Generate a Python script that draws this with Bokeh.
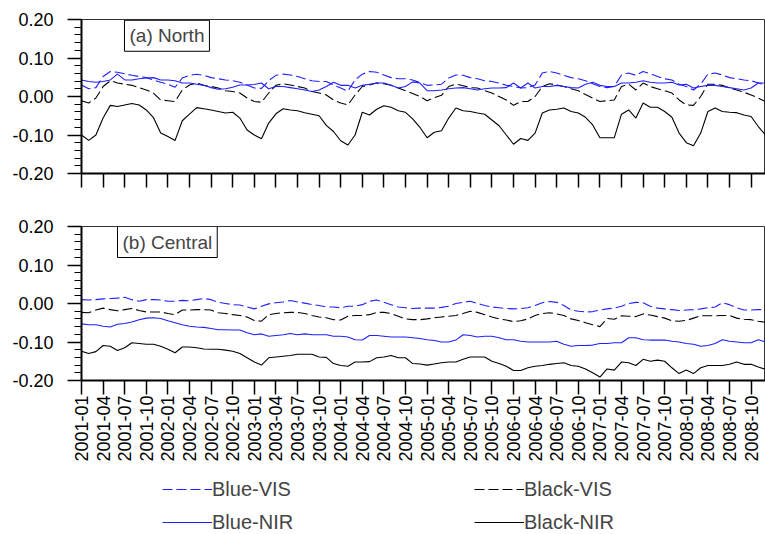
import math
from bokeh.plotting import figure
from bokeh.layouts import column
from bokeh.models import (FixedTicker, Label, Legend, LegendItem, ColumnDataSource,
                          Range1d, PrintfTickFormatter)
from bokeh.embed import file_html
from bokeh.resources import INLINE

# ---------------- data ----------------
months = [f"{y}-{m:02d}" for y in range(2001, 2009) for m in range(1, 13)]

north_blue_vis = [0.030, 0.020, 0.023, 0.052, 0.065, 0.063, 0.059, 0.055, 0.052, 0.049, 0.043, 0.037,
                  0.032, 0.024, 0.048, 0.055, 0.058, 0.055, 0.049, 0.046, 0.043, 0.041, 0.037, 0.030,
                  0.022, 0.021, 0.041, 0.055, 0.058, 0.056, 0.052, 0.046, 0.041, 0.039, 0.039, 0.030,
                  0.022, 0.014, 0.043, 0.058, 0.065, 0.063, 0.056, 0.049, 0.046, 0.046, 0.043, 0.036,
                  0.029, 0.030, 0.032, 0.048, 0.056, 0.055, 0.049, 0.046, 0.041, 0.039, 0.035, 0.029,
                  0.026, 0.022, 0.023, 0.030, 0.061, 0.065, 0.061, 0.055, 0.049, 0.046, 0.041, 0.033,
                  0.026, 0.023, 0.026, 0.056, 0.061, 0.055, 0.065, 0.059, 0.052, 0.046, 0.043, 0.032,
                  0.026, 0.017, 0.032, 0.058, 0.061, 0.056, 0.049, 0.046, 0.043, 0.041, 0.035, 0.030]
north_black_vis = [-0.011, -0.017, -0.004, 0.026, 0.041, 0.035, 0.032, 0.029, 0.023, 0.017, 0.009, -0.009,
                   -0.011, -0.013, 0.017, 0.030, 0.035, 0.029, 0.026, 0.022, 0.015, 0.013, 0.009, -0.004,
                   -0.013, -0.015, 0.009, 0.029, 0.033, 0.030, 0.026, 0.022, 0.013, 0.009, 0.004, -0.009,
                   -0.017, -0.022, 0.004, 0.026, 0.030, 0.035, 0.033, 0.029, 0.022, 0.015, 0.008, 0.000,
                   -0.011, -0.003, 0.003, 0.026, 0.032, 0.028, 0.023, 0.022, 0.015, 0.009, 0.000, -0.009,
                   -0.023, -0.013, -0.013, 0.000, 0.026, 0.033, 0.030, 0.026, 0.020, 0.015, 0.005, -0.004,
                   -0.013, -0.011, -0.009, 0.026, 0.032, 0.017, 0.035, 0.026, 0.020, 0.015, 0.009, -0.009,
                   -0.022, -0.023, 0.000, 0.032, 0.032, 0.029, 0.022, 0.017, 0.011, 0.004, -0.004, -0.013]
north_blue_nir = [0.043, 0.039, 0.037, 0.039, 0.043, 0.058, 0.043, 0.043, 0.046, 0.048, 0.049, 0.043,
                  0.043, 0.041, 0.035, 0.035, 0.032, 0.029, 0.023, 0.019, 0.020, 0.024, 0.030, 0.030,
                  0.031, 0.035, 0.020, 0.026, 0.026, 0.023, 0.020, 0.017, 0.013, 0.017, 0.026, 0.037,
                  0.029, 0.029, 0.022, 0.029, 0.032, 0.035, 0.035, 0.029, 0.022, 0.026, 0.038, 0.035,
                  0.015, 0.015, 0.017, 0.020, 0.022, 0.023, 0.020, 0.017, 0.020, 0.022, 0.022, 0.023,
                  0.035, 0.022, 0.035, 0.022, 0.026, 0.026, 0.029, 0.026, 0.023, 0.022, 0.032, 0.037,
                  0.029, 0.026, 0.026, 0.035, 0.035, 0.037, 0.041, 0.037, 0.035, 0.035, 0.037, 0.030,
                  0.032, 0.022, 0.026, 0.029, 0.029, 0.026, 0.023, 0.020, 0.017, 0.022, 0.035, 0.035]
north_black_nir = [-0.100, -0.114, -0.100, -0.056, -0.023, -0.026, -0.022, -0.018, -0.022, -0.035, -0.055, -0.095,
                   -0.104, -0.114, -0.063, -0.046, -0.029, -0.032, -0.035, -0.039, -0.043, -0.041, -0.056, -0.087,
                   -0.100, -0.110, -0.069, -0.045, -0.032, -0.035, -0.037, -0.042, -0.046, -0.050, -0.075, -0.091,
                   -0.115, -0.126, -0.100, -0.041, -0.048, -0.033, -0.024, -0.028, -0.037, -0.041, -0.058, -0.080,
                   -0.107, -0.093, -0.089, -0.056, -0.030, -0.037, -0.039, -0.043, -0.046, -0.061, -0.076, -0.100,
                   -0.124, -0.109, -0.114, -0.095, -0.043, -0.035, -0.033, -0.030, -0.039, -0.043, -0.054, -0.074,
                   -0.107, -0.107, -0.107, -0.046, -0.035, -0.056, -0.017, -0.028, -0.028, -0.039, -0.054, -0.095,
                   -0.120, -0.128, -0.095, -0.039, -0.030, -0.039, -0.041, -0.042, -0.048, -0.052, -0.078, -0.100]

central_blue_vis = [0.010, 0.009, 0.010, 0.012, 0.013, 0.014, 0.016, 0.010, 0.006, 0.010, 0.010, 0.009,
                    0.006, 0.006, 0.008, 0.007, 0.010, 0.013, 0.010, 0.003, 0.000, -0.003, -0.004, -0.009,
                    -0.014, -0.007, -0.001, 0.002, 0.004, 0.008, 0.004, 0.001, -0.003, -0.005, -0.009, -0.009,
                    -0.011, -0.007, -0.007, -0.003, 0.006, 0.009, 0.003, -0.003, -0.009, -0.011, -0.013, -0.012,
                    -0.012, -0.012, -0.010, -0.007, 0.000, 0.003, 0.006, 0.000, -0.005, -0.009, -0.011, -0.013,
                    -0.014, -0.013, -0.011, -0.005, 0.002, 0.005, 0.003, -0.005, -0.017, -0.020, -0.022, -0.021,
                    -0.017, -0.014, -0.012, -0.007, 0.000, 0.003, 0.002, -0.007, -0.012, -0.014, -0.016, -0.018,
                    -0.017, -0.016, -0.014, -0.011, -0.009, 0.002, -0.003, -0.011, -0.017, -0.017, -0.016, -0.016]
central_black_vis = [-0.023, -0.024, -0.017, -0.012, -0.016, -0.019, -0.016, -0.013, -0.018, -0.022, -0.022, -0.022,
                     -0.026, -0.029, -0.017, -0.017, -0.016, -0.016, -0.017, -0.024, -0.026, -0.029, -0.031, -0.035,
                     -0.044, -0.046, -0.029, -0.026, -0.024, -0.023, -0.023, -0.026, -0.031, -0.035, -0.037, -0.042,
                     -0.043, -0.033, -0.031, -0.031, -0.029, -0.023, -0.023, -0.026, -0.033, -0.040, -0.042, -0.042,
                     -0.040, -0.037, -0.035, -0.033, -0.031, -0.026, -0.020, -0.023, -0.029, -0.035, -0.040, -0.043,
                     -0.047, -0.045, -0.040, -0.031, -0.026, -0.024, -0.027, -0.031, -0.040, -0.044, -0.050, -0.055,
                     -0.060, -0.039, -0.041, -0.032, -0.033, -0.034, -0.027, -0.030, -0.034, -0.038, -0.045, -0.046,
                     -0.044, -0.038, -0.032, -0.032, -0.032, -0.031, -0.031, -0.038, -0.041, -0.042, -0.046, -0.049]
central_blue_nir = [-0.053, -0.055, -0.055, -0.059, -0.061, -0.054, -0.052, -0.048, -0.042, -0.038, -0.037, -0.039,
                    -0.045, -0.050, -0.055, -0.059, -0.061, -0.062, -0.065, -0.068, -0.068, -0.069, -0.069, -0.076,
                    -0.081, -0.079, -0.085, -0.083, -0.081, -0.078, -0.081, -0.079, -0.081, -0.081, -0.081, -0.085,
                    -0.085, -0.087, -0.094, -0.095, -0.083, -0.083, -0.085, -0.087, -0.087, -0.087, -0.089, -0.091,
                    -0.094, -0.096, -0.100, -0.100, -0.095, -0.081, -0.083, -0.087, -0.085, -0.085, -0.089, -0.094,
                    -0.094, -0.098, -0.100, -0.100, -0.100, -0.100, -0.098, -0.106, -0.111, -0.109, -0.109, -0.108,
                    -0.104, -0.104, -0.102, -0.102, -0.089, -0.089, -0.094, -0.095, -0.095, -0.095, -0.098, -0.100,
                    -0.104, -0.106, -0.111, -0.109, -0.104, -0.094, -0.098, -0.100, -0.102, -0.102, -0.094, -0.100]
central_black_nir = [-0.124, -0.130, -0.125, -0.109, -0.111, -0.122, -0.115, -0.102, -0.104, -0.106, -0.106, -0.111,
                     -0.119, -0.128, -0.113, -0.113, -0.115, -0.118, -0.119, -0.119, -0.121, -0.124, -0.130, -0.141,
                     -0.152, -0.160, -0.141, -0.139, -0.137, -0.135, -0.132, -0.132, -0.132, -0.139, -0.140, -0.156,
                     -0.161, -0.163, -0.152, -0.152, -0.151, -0.141, -0.139, -0.135, -0.141, -0.141, -0.156, -0.157,
                     -0.160, -0.157, -0.154, -0.152, -0.152, -0.145, -0.139, -0.139, -0.139, -0.150, -0.156, -0.163,
                     -0.174, -0.174, -0.167, -0.163, -0.161, -0.158, -0.156, -0.154, -0.161, -0.163, -0.170, -0.180,
                     -0.191, -0.170, -0.173, -0.152, -0.154, -0.161, -0.145, -0.150, -0.147, -0.150, -0.167, -0.182,
                     -0.173, -0.182, -0.167, -0.161, -0.161, -0.161, -0.158, -0.152, -0.158, -0.158, -0.165, -0.171]

y_ticks = [-0.2, -0.1, 0.0, 0.1, 0.2]
series_names = ["Blue-VIS", "Black-VIS", "Blue-NIR", "Black-NIR"]
series_colors = ["#1f1fff", "black", "#1f1fff", "black"]
series_dash = ["10 4", "10 4", "solid", "solid"]
legend_order = ["Blue-VIS", "Blue-NIR", "Black-VIS", "Black-NIR"]

FONT = "Liberation Sans"

x_idx = list(range(len(months)))
tick_pos = list(range(0, len(months), 3))
minor_y = [round(-0.2 + 0.02 * k, 2) for k in range(21) if k % 5 != 0]


def add_lines(p, src):
    rends = {}
    for n, c, d in zip(series_names, series_colors, series_dash):
        rends[n] = p.line("x", n, source=src, line_color=c, line_dash=d, line_width=1.1)
    return rends


def make_panel(values, title, title_xy, top, bottom, show_xlabels):
    p = figure(frame_width=684, frame_height=154, output_backend="svg", toolbar_location=None,
               min_border_left=81, min_border_right=0, min_border_top=top,
               min_border_bottom=bottom,
               x_range=Range1d(0, len(months) - 1), y_range=Range1d(-0.2, 0.2))
    p.xgrid.visible = False
    p.ygrid.visible = False
    p.outline_line_color = "#333333"
    p.outline_line_width = 1
    p.background_fill_color = "white"
    p.border_fill_color = "white"

    src = ColumnDataSource(dict(x=x_idx, **{n: v for n, v in zip(series_names, values)}))
    add_lines(p, src)

    yax = p.yaxis[0]
    yax.ticker = FixedTicker(ticks=y_ticks, minor_ticks=minor_y)
    yax.formatter = PrintfTickFormatter(format="%.2f")
    yax.major_tick_out = 14
    yax.major_tick_in = 0
    yax.minor_tick_out = 7
    yax.minor_tick_in = 0
    yax.axis_line_width = 2
    yax.major_tick_line_width = 1.5
    yax.major_label_text_font = FONT
    yax.major_label_text_font_size = "18px"
    yax.major_label_text_color = "black"
    yax.major_label_standoff = 14

    xax = p.xaxis[0]
    xax.ticker = FixedTicker(ticks=tick_pos)
    xax.major_tick_out = 14
    xax.major_tick_in = 0
    xax.minor_tick_line_color = None
    xax.axis_line_width = 2
    xax.major_tick_line_width = 1.5
    xax.major_label_text_font = FONT
    xax.major_label_orientation = math.pi / 2
    xax.major_label_standoff = 1
    xax.major_label_text_font_size = "18px"
    xax.major_label_text_color = "black"
    if show_xlabels:
        xax.major_label_overrides = {i: months[i] for i in tick_pos}
    else:
        xax.major_label_overrides = {i: "" for i in tick_pos}

    lab = Label(x=title_xy[0], y=title_xy[1], text=title, text_font=FONT, text_font_size="19px",
                text_baseline="top", text_align="left",
                border_line_color="black", border_line_width=1,
                background_fill_color="white", padding=5)
    p.add_layout(lab)
    return p, src


p1, _ = make_panel([north_blue_vis, north_black_vis, north_blue_nir, north_black_nir],
                   "(a) North", (5.97, 0.198), 19, 30, False)
p2, src2 = make_panel([central_blue_vis, central_black_vis, central_blue_nir, central_black_nir],
                      "(b) Central", (5.0, 0.2), 23, 90, True)

# legend strip below the panels (its line renderers share panel (b)'s data, kept out of view)
p3 = figure(width=765, height=64, output_backend="svg", toolbar_location=None,
            min_border=0, min_border_left=0, min_border_right=0,
            min_border_top=0, min_border_bottom=0,
            x_range=Range1d(1000, 1001), y_range=Range1d(1000, 1001))
p3.axis.visible = False
p3.grid.visible = False
p3.outline_line_color = None
p3.background_fill_color = "white"
p3.border_fill_color = "white"
r3 = add_lines(p3, src2)

items = [LegendItem(label=n, renderers=[r3[n]]) for n in legend_order]
legend = Legend(items=items, ncols=2, nrows=2, location=(81, 0),
                glyph_width=50, glyph_height=20, label_standoff=0,
                label_width=253, label_height=24, spacing=9, padding=0, margin=0,
                border_line_color=None, background_fill_alpha=0,
                label_text_font=FONT, label_text_font_size="20px")
p3.add_layout(legend, "center")

layout = column(p1, p2, p3, spacing=0)
open("out.html", "w").write(file_html(layout, INLINE))
